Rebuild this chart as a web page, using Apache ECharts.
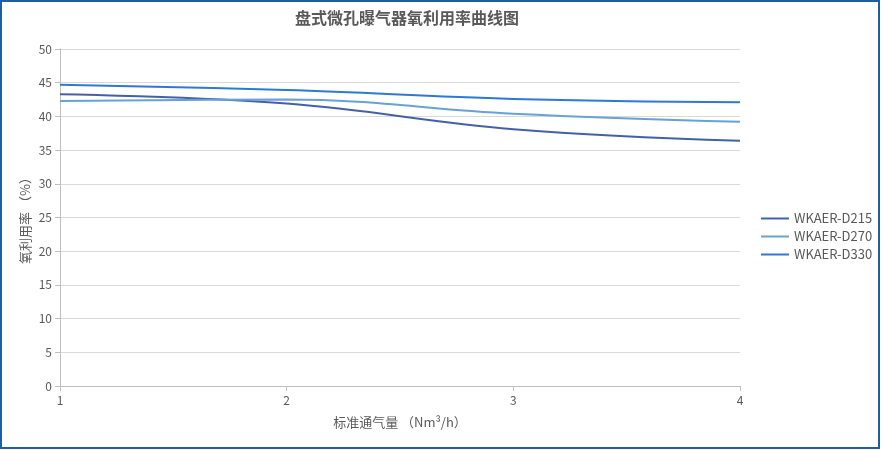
<!DOCTYPE html>
<html>
<head>
<meta charset="utf-8">
<script src="https://cdn.jsdelivr.net/npm/echarts@6/dist/echarts.min.js"></script>
<style>
html,body{margin:0;padding:0;background:#fff;}
#c{width:881px;height:450px;}
</style>
</head>
<body>
<div id="c"></div>
<script>
const xValues = [1, 2, 3, 4];
const seriesNames = ['WKAER-D215', 'WKAER-D270', 'WKAER-D330'];
const d215 = [43.3, 41.9, 38.1, 36.4];
const d270 = [42.3, 42.5, 40.4, 39.2];
const d330 = [44.7, 43.9, 42.6, 42.1];
const colors = ['#4361ab', '#67a1da', '#2c7ad4'];

const pair = arr => xValues.map((x, i) => [x, arr[i]]);
const font = '"Noto Sans CJK SC", "Noto Sans", sans-serif';

const chart = echarts.init(document.getElementById('c'));
chart.setOption({
  animation: false,
  textStyle: { fontFamily: font },
  title: {
    text: '盘式微孔曝气器氧利用率曲线图',
    left: 402, top: 5, textAlign: 'center',
    textStyle: { fontSize: 16, fontWeight: 'bold', color: '#595959', fontFamily: font }
  },
  graphic: [{
    type: 'rect', silent: true,
    shape: { x: 1, y: 1, width: 878, height: 447 },
    style: { fill: 'none', stroke: '#1f5fa0', lineWidth: 2 }
  }],
  legend: {
    orient: 'vertical', left: 756, top: 207,
    itemWidth: 28, itemHeight: 10, itemGap: 5,
    icon: 'path://M0,4 L28,4 L28,6 L0,6 Z',
    textStyle: { fontSize: 13, color: '#595959', fontFamily: font },
    data: seriesNames
  },
  grid: { left: 60, right: 141, top: 49, bottom: 64 },
  xAxis: {
    type: 'value', min: 1, max: 4, interval: 1,
    name: '标准通气量 （Nm³/h）', nameLocation: 'middle', nameGap: 30,
    nameTextStyle: { fontSize: 13, color: '#595959' },
    axisLine: { lineStyle: { color: '#bfbfbf' } },
    axisTick: { show: true, length: 5, lineStyle: { color: '#bfbfbf' } },
    axisLabel: { fontSize: 12, color: '#595959', margin: 8 },
    splitLine: { show: false }
  },
  yAxis: {
    type: 'value', min: 0, max: 50, interval: 5,
    name: '氧利用率 （%）', nameLocation: 'middle', nameGap: 28, nameRotate: 90,
    nameMoveOverlap: false,
    nameTextStyle: { fontSize: 13, color: '#595959' },
    axisLine: { show: true, lineStyle: { color: '#bfbfbf' } },
    axisTick: { show: true, length: 5, lineStyle: { color: '#bfbfbf' } },
    axisLabel: { fontSize: 12, color: '#595959', margin: 8 },
    splitLine: { lineStyle: { color: '#d9d9d9' } }
  },
  series: [
    { name: seriesNames[0], type: 'line', smooth: 0.4, showSymbol: false, data: pair(d215), lineStyle: { width: 2, color: colors[0] }, itemStyle: { color: colors[0] } },
    { name: seriesNames[1], type: 'line', smooth: 0.4, showSymbol: false, data: pair(d270), lineStyle: { width: 2, color: colors[1] }, itemStyle: { color: colors[1] } },
    { name: seriesNames[2], type: 'line', smooth: 0.4, showSymbol: false, data: pair(d330), lineStyle: { width: 2, color: colors[2] }, itemStyle: { color: colors[2] } }
  ]
});
</script>
</body>
</html>
